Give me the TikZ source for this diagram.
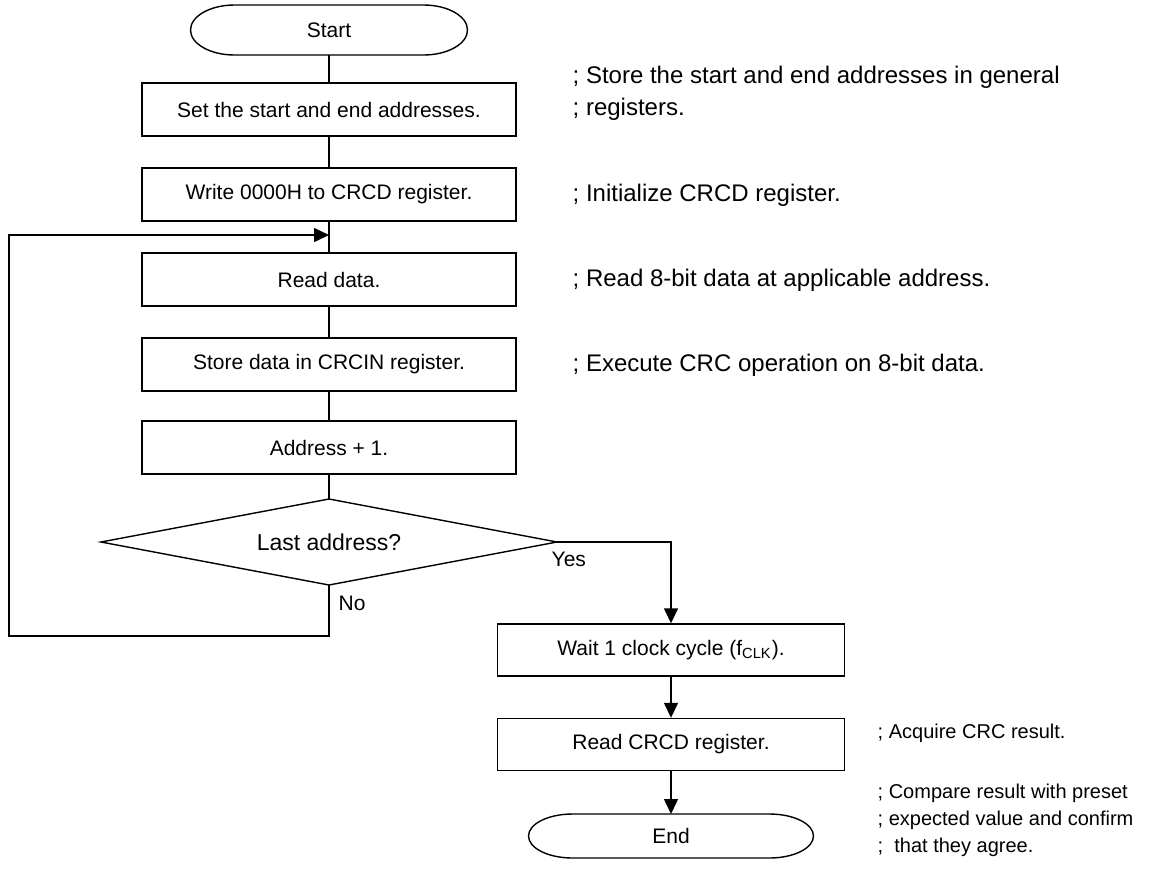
\documentclass[tikz,border=0pt]{standalone}
\usepackage{fontspec}
\setmainfont{Liberation Sans}
\usepackage{tikz}
\usetikzlibrary{arrows.meta}

\begin{document}
\begin{tikzpicture}[x=0.5pt, y=-0.5pt, line width=0.7pt,
  proc/.style={draw, rectangle, minimum width=187pt, minimum height=26.5pt, inner sep=0pt, font=\fontsize{10.5}{12}\selectfont},
  procwide/.style={proc, minimum width=173.5pt, minimum height=26pt},
  term/.style={rectangle, inner sep=0pt, outer sep=0pt, font=\fontsize{10.5}{12}\selectfont},
  decision/.style={rectangle, minimum width=228pt, minimum height=43pt, inner sep=0pt, outer sep=0pt, font=\fontsize{11.5}{13}\selectfont},
  note/.style={anchor=west, inner sep=0pt, align=left, font=\fontsize{12}{16}\selectfont},
  notesm/.style={note, font=\fontsize{10}{13.5}\selectfont},
  flow/.style={-{Triangle[length=7.5pt, width=7pt]}}]
\path[use as bounding box, fill=white] (0,0) rectangle (1157,869);

\node[term, minimum width=138.5pt, minimum height=25pt] (start) at (329,30) {Start};
\draw ([xshift=22pt]start.north west) -- ([xshift=-22pt]start.north east) arc[start angle=90, end angle=-90, x radius=22pt, y radius=12.5pt] -- ([xshift=22pt]start.south west) arc[start angle=270, end angle=90, x radius=22pt, y radius=12.5pt] -- cycle;
\node[proc] (setaddr) at (329,109.5) {Set the start and end addresses.};
\node[proc] (initcrcd) at (329,194.5) {Write 0000H to CRCD register.};
\node[proc] (readdata) at (329,279.5) {Read data.};
\node[proc] (storein) at (329,364.5) {Store data in CRCIN register.};
\node[proc] (incaddr) at (329,447.5) {Address + 1.};
\node[decision] (lastaddr) at (329,542) {Last address?};
\draw (lastaddr.north) -- (lastaddr.east) -- (lastaddr.south) -- (lastaddr.west) -- cycle;
\node[procwide] (waitclk) at (671,650) {Wait 1 clock cycle (f\textsubscript{CLK}).};
\node[procwide] (readcrcd) at (671,744.5) {Read CRCD register.};
\node[term, minimum width=142.5pt, minimum height=22pt] (end) at (671,836) {End};
\draw ([xshift=22pt]end.north west) -- ([xshift=-22pt]end.north east) arc[start angle=90, end angle=-90, x radius=22pt, y radius=11pt] -- ([xshift=22pt]end.south west) arc[start angle=270, end angle=90, x radius=22pt, y radius=11pt] -- cycle;

\coordinate (loopbot) at (9,636);
\coordinate (looptop) at (9,235);
\coordinate (join) at (329,235);

\draw (start) -- (setaddr);
\draw (setaddr) -- (initcrcd);
\draw (initcrcd) -- (readdata);
\draw (readdata) -- (storein);
\draw (storein) -- (incaddr);
\draw (incaddr) -- (lastaddr.north);
\draw[flow] (lastaddr.south) |- (loopbot) -- (looptop) -- (join);
\draw[flow] (lastaddr.east) -| (waitclk.north);
\draw[flow] (waitclk) -- (readcrcd);
\draw[flow] (readcrcd) -- (end);

\node[anchor=north west, inner sep=0pt, font=\fontsize{10.5}{12}\selectfont] (yes) at (551,551) {Yes};
\node[anchor=west, inner sep=0pt, font=\fontsize{10.5}{12}\selectfont] (no) at (338,603) {No};

\node[note] (n1) at (572,93) {; Store the start and end addresses in general\\; registers.};
\node[note] (n2) at (572,195) {; Initialize CRCD register.};
\node[note] (n3) at (572,280) {; Read 8-bit data at applicable address.};
\node[note] (n4) at (572,365) {; Execute CRC operation on 8-bit data.};
\node[notesm] (n5) at (877,733) {; Acquire CRC result.};
\node[notesm] (n6) at (877,820) {; Compare result with preset\\; expected value and confirm\\; \ that they agree.};
\end{tikzpicture}
\end{document}
